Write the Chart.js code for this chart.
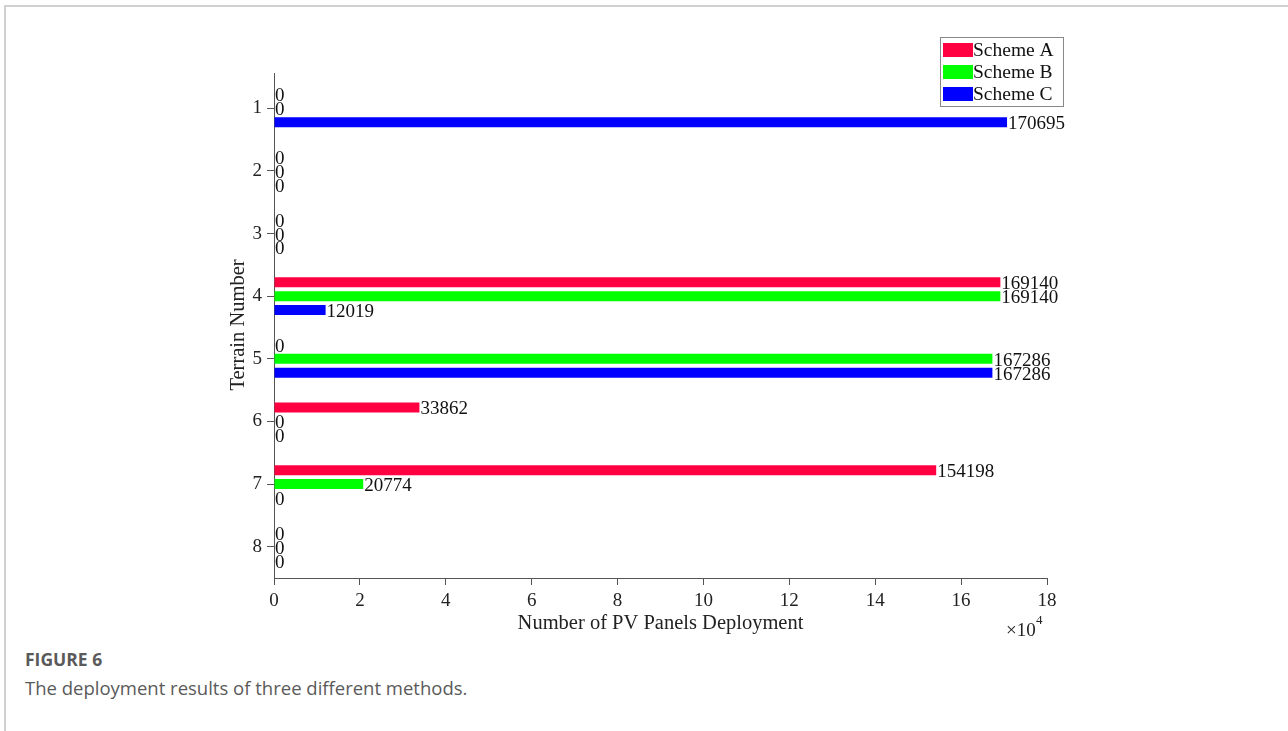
<!DOCTYPE html>
<html>
<head>
<meta charset="utf-8">
<script src="https://cdn.jsdelivr.net/npm/chart.js@4.4.0/dist/chart.umd.min.js"></script>
<style>
  body { margin: 0; background: #fff; width: 1288px; height: 731px; position: relative; overflow: hidden; }
  .card { position: absolute; left: 4px; top: 5px; right: 0; bottom: 0; border-top: 2px solid #d0d0d0; border-left: 2px solid #d0d0d0; }
  #wrap { position: absolute; left: 0; top: 0; width: 1288px; height: 640px; }
  .cap1 { position: absolute; left: 25px; top: 647px; font: bold 17.5px "Open Sans", sans-serif; color: #5a5a5a; }
  .cap2 { position: absolute; left: 25px; top: 675px; font: 18.5px "Open Sans", sans-serif; color: #5a5a5a; }
</style>
</head>
<body>
<div class="card"></div>
<div id="wrap"><canvas id="chart"></canvas></div>
<div class="cap1">FIGURE 6</div>
<div class="cap2">The deployment results of three different methods.</div>
<script>
// terrain numbers and panel counts per scheme
var terrains = ['1', '2', '3', '4', '5', '6', '7', '8'];
var schemeA = [0, 0, 0, 169140, 0, 33862, 154198, 0];
var schemeB = [0, 0, 0, 169140, 167286, 0, 20774, 0];
var schemeC = [170695, 0, 0, 12019, 167286, 0, 0, 0];
var seriesNames = ['Scheme A', 'Scheme B', 'Scheme C'];
var seriesColors = ['#ff0040', '#00ff00', '#0000ff'];
var xTicks = [0, 20000, 40000, 60000, 80000, 100000, 120000, 140000, 160000, 180000];

var serif = '"Liberation Serif", "Times New Roman", serif';

// value labels at the end of each bar (zeros included)
var barLabels = {
    id: 'barLabels',
    afterDatasetsDraw: function (chart) {
        var ctx = chart.ctx;
        ctx.save();
        ctx.font = '19px ' + serif;
        ctx.fillStyle = '#111';
        ctx.textAlign = 'left';
        ctx.textBaseline = 'middle';
        chart.data.datasets.forEach(function (ds, i) {
            var meta = chart.getDatasetMeta(i);
            meta.data.forEach(function (el, j) {
                ctx.fillText(String(ds.data[j]), el.x + 1, el.y + 2);
            });
        });
        ctx.restore();
    }
};

// axis titles, exponent and boxed legend
var extras = {
    id: 'extras',
    afterDraw: function (chart) {
        var ctx = chart.ctx;
        var area = chart.chartArea;
        ctx.save();
        // axis line runs a bit above the first category slot
        ctx.strokeStyle = '#555';
        ctx.lineWidth = 1;
        ctx.beginPath();
        ctx.moveTo(area.left + 0.5, 73);
        ctx.lineTo(area.left + 0.5, area.top);
        ctx.stroke();

        ctx.fillStyle = '#222';
        ctx.font = '20.5px ' + serif;
        ctx.textAlign = 'center';
        ctx.textBaseline = 'middle';
        ctx.fillText('Number of PV Panels Deployment', (area.left + area.right) / 2, 624);
        ctx.save();
        ctx.translate(239, 325);
        ctx.rotate(-Math.PI / 2);
        ctx.fillText('Terrain Number', 0, 0);
        ctx.restore();

        ctx.textAlign = 'left';
        ctx.font = '19px ' + serif;
        ctx.fillText('\u00d710', 1006, 631);
        ctx.font = '13px ' + serif;
        ctx.fillText('4', 1036, 621);

        // legend
        var lx = 940, ly = 37, lw = 123, lh = 69;
        ctx.fillStyle = '#fff';
        ctx.fillRect(lx, ly, lw, lh);
        ctx.strokeStyle = '#888';
        ctx.strokeRect(lx + 0.5, ly + 0.5, lw, lh);
        ctx.font = '19.5px ' + serif;
        for (var i = 0; i < seriesNames.length; i++) {
            var cy = ly + 13 + i * 22;
            ctx.fillStyle = seriesColors[i];
            ctx.fillRect(lx + 3, cy - 7, 30, 14);
            ctx.fillStyle = '#111';
            ctx.fillText(seriesNames[i], lx + 33, cy + 1);
        }
        ctx.restore();
    }
};

var datasets = [schemeA, schemeB, schemeC].map(function (vals, i) {
    return {
        label: seriesNames[i],
        data: vals,
        backgroundColor: seriesColors[i],
        borderWidth: 0,
        categoryPercentage: 0.667,
        barPercentage: 0.72
    };
});

new Chart(document.getElementById('chart'), {
    type: 'bar',
    data: { labels: terrains, datasets: datasets },
    plugins: [barLabels, extras],
    options: {
        indexAxis: 'y',
        responsive: true,
        maintainAspectRatio: false,
        animation: false,
        layout: { padding: { left: 0, right: 241, top: 77, bottom: 0 } },
        plugins: { legend: { display: false }, tooltip: { enabled: false } },
        scales: {
            x: {
                min: 0,
                max: 180000,
                afterBuildTicks: function (scale) {
                    scale.ticks = xTicks.map(function (v) { return { value: v }; });
                },
                afterFit: function (scale) { scale.height = 640 - 578; },
                grid: { drawOnChartArea: false, drawTicks: true, tickLength: 7, color: '#555' },
                border: { display: true, color: '#555', width: 1 },
                ticks: {
                    padding: 5,
                    color: '#222',
                    font: { family: serif, size: 19 },
                    maxRotation: 0,
                    callback: function (v) { return String(v / 10000); }
                }
            },
            y: {
                afterFit: function (scale) { scale.width = 274; },
                grid: { drawOnChartArea: false, drawTicks: true, tickLength: 7, color: '#555', offset: false },
                border: { display: true, color: '#555', width: 1 },
                ticks: {
                    padding: 5,
                    color: '#222',
                    font: { family: serif, size: 19 }
                }
            }
        }
    }
});
</script>
</body>
</html>
